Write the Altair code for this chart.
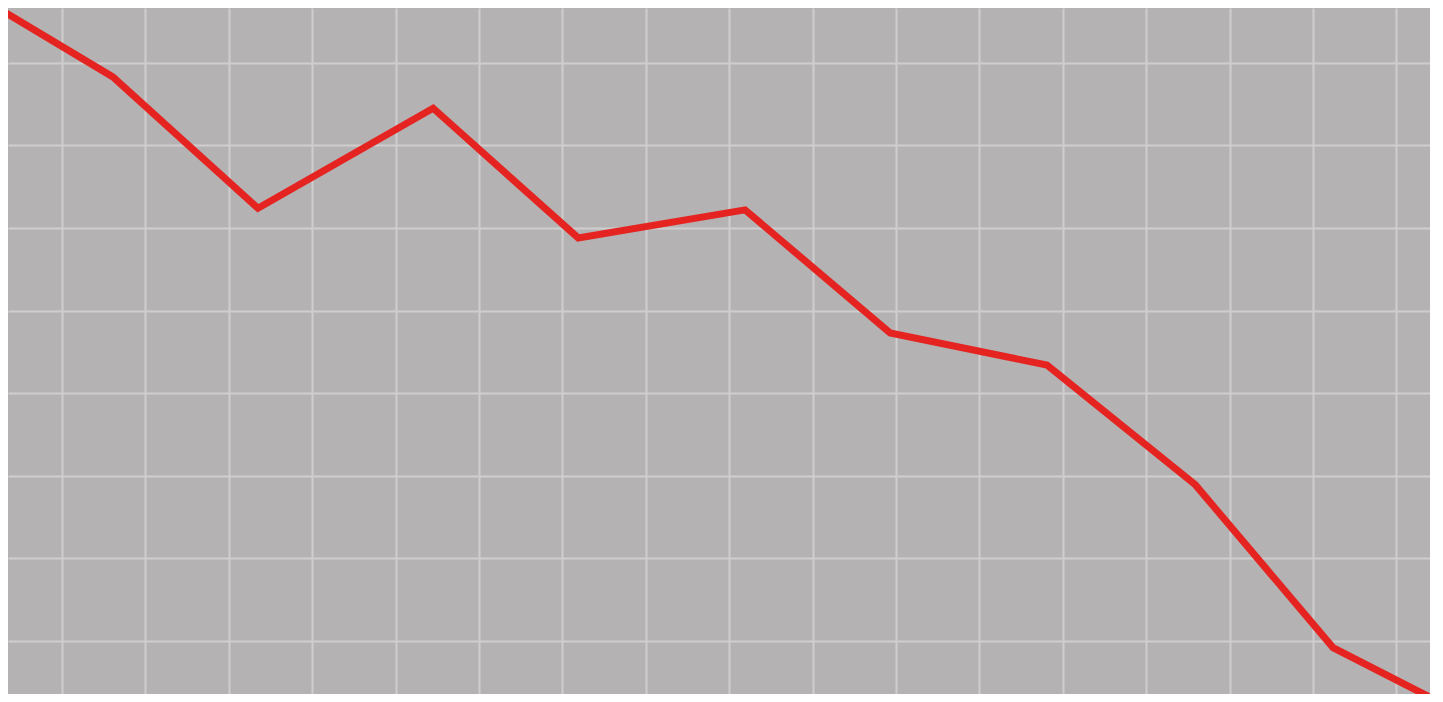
import altair as alt
import pandas as pd

# Values (grid units: one grid cell = 1 unit)
x_vals = [-0.68, 0.61, 2.35, 4.45, 6.19, 8.19, 9.93, 11.81, 13.59, 15.24, 16.40]
y_vals = [8.61, 7.83, 6.24, 7.45, 5.88, 6.22, 4.73, 4.34, 2.89, 0.92, 0.32]

x_grid = list(range(0, 17))
y_grid = list(range(1, 9))

df = pd.DataFrame({"x": x_vals, "y": y_vals})

chart = alt.Chart(df).mark_line(
    color="#e52421", strokeWidth=7, clip=True, strokeJoin="miter"
).encode(
    x=alt.X("x:Q", scale=alt.Scale(domain=[-0.647, 16.403], nice=False, zero=False),
            axis=alt.Axis(values=x_grid, labels=False, ticks=False, domain=False,
                          title=None, grid=True, gridColor="#cfcdcd", gridWidth=2)),
    y=alt.Y("y:Q", scale=alt.Scale(domain=[0.358, 8.664], nice=False, zero=False),
            axis=alt.Axis(values=y_grid, labels=False, ticks=False, domain=False,
                          title=None, grid=True, gridColor="#cfcdcd", gridWidth=2)),
).properties(
    width=1422, height=686, background="white", padding=0
).configure_view(
    fill="#b4b2b2", stroke=None
)

chart.save("out.html", embed_options={"renderer": "svg", "actions": False})
